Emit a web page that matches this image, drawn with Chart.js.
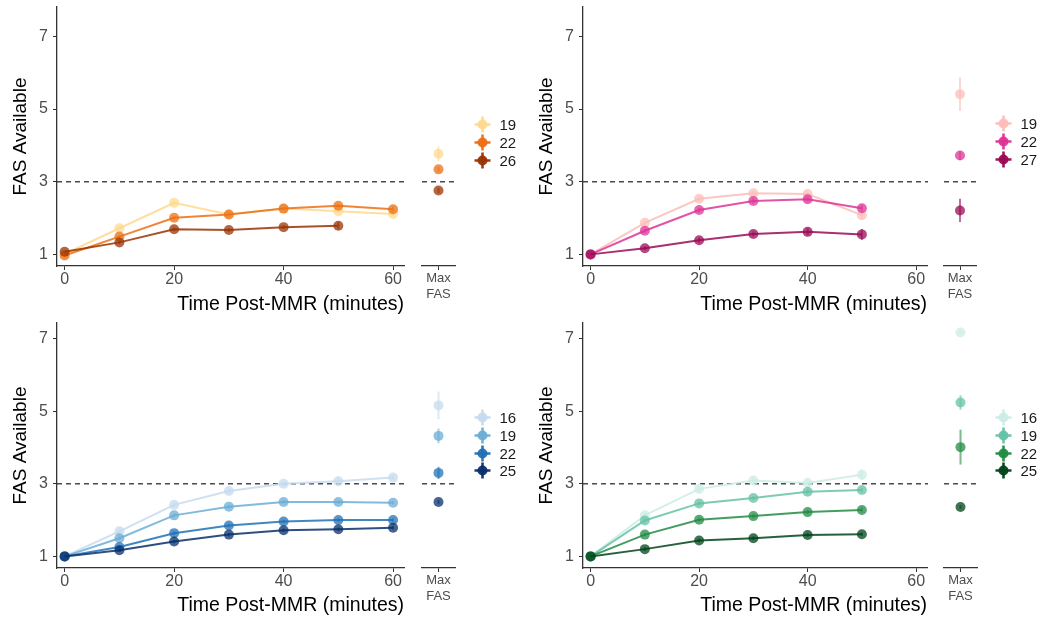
<!DOCTYPE html>
<html>
<head>
<meta charset="utf-8">
<title>FAS Available</title>
<script src="https://cdn.jsdelivr.net/npm/chart.js@4.4.1/dist/chart.umd.min.js"></script>
<style>
    body {
        margin: 0;
        background: #fff;
        width: 1051px;
        height: 621px;
        overflow: hidden;
        position: relative;
        font-family: "Liberation Sans", Arial, sans-serif;
    }
    .painel { position: absolute; width: 526px; }
    .painel canvas { position: absolute; top: 0; }
    .legenda {
        position: absolute;
        margin: 0;
        padding: 0;
        list-style: none;
        font-size: 15px;
        color: #1a1a1a;
    }
    .legenda li { height: 17.6px; display: flex; align-items: center; }
    .legenda canvas { position: static; margin-right: 9px; }
</style>
</head>
<body>
<div class="painel" id="painel_laranja" style="left:0px;top:0px;height:320px"></div>
<div class="painel" id="painel_rosa" style="left:526px;top:0px;height:320px"></div>
<div class="painel" id="painel_azul" style="left:0px;top:302px;height:319px"></div>
<div class="painel" id="painel_verde" style="left:526px;top:302px;height:319px"></div>

<script>
// eixos comuns
var tempos = [0, 10, 20, 30, 40, 50, 60];
var ticksX = [0, 20, 40, 60];
var ticksY = [1, 3, 5, 7];
var limiar = 3;

// laranja
var laranjaGrupos = ['19', '22', '26'];
var laranja19 = [1.01, 1.72, 2.42, 2.10, 2.26, 2.19, 2.11];
var laranja22 = [0.97, 1.49, 2.01, 2.10, 2.26, 2.34, 2.24];
var laranja26 = [1.07, 1.33, 1.69, 1.67, 1.75, 1.79];
var laranjaErro19 = [0.03, 0.05, 0.05, 0.05, 0.05, 0.05, 0.05];
var laranjaErro22 = [0.03, 0.05, 0.05, 0.05, 0.05, 0.05, 0.08];
var laranjaErro26 = [0.03, 0.05, 0.05, 0.05, 0.05, 0.1];
var laranjaMax = [3.77, 3.34, 2.76];
var laranjaMaxErro = [0.2, 0.07, 0.07];

// rosa
var rosaGrupos = ['19', '22', '27'];
var rosa19 = [1.0, 1.87, 2.53, 2.68, 2.66, 2.08];
var rosa22 = [1.0, 1.65, 2.22, 2.47, 2.52, 2.27];
var rosa27 = [1.0, 1.17, 1.39, 1.56, 1.62, 1.55];
var rosaErro19 = [0.02, 0.06, 0.07, 0.07, 0.07, 0.1];
var rosaErro22 = [0.02, 0.06, 0.07, 0.07, 0.07, 0.1];
var rosaErro27 = [0.02, 0.05, 0.07, 0.07, 0.1, 0.15];
var rosaMax = [5.41, 3.72, 2.21];
var rosaMaxErro = [0.46, 0.12, 0.32];

// azul
var azulGrupos = ['16', '19', '22', '25'];
var azul16 = [1.0, 1.69, 2.42, 2.80, 3.00, 3.07, 3.17];
var azul19 = [1.0, 1.50, 2.13, 2.37, 2.50, 2.50, 2.48];
var azul22 = [1.0, 1.26, 1.64, 1.85, 1.96, 2.00, 2.00];
var azul25 = [1.0, 1.17, 1.41, 1.60, 1.72, 1.75, 1.79];
var azulErro16 = [0.02, 0.07, 0.07, 0.07, 0.07, 0.12, 0.07];
var azulErro19 = [0.02, 0.05, 0.05, 0.05, 0.05, 0.05, 0.05];
var azulErro22 = [0.02, 0.05, 0.05, 0.05, 0.05, 0.05, 0.05];
var azulErro25 = [0.02, 0.05, 0.05, 0.05, 0.05, 0.05, 0.05];
var azulMax = [5.16, 4.32, 3.30, 2.50];
var azulMaxErro = [0.38, 0.2, 0.17, 0.05];

// verde
var verdeGrupos = ['16', '19', '22', '25'];
var verde16 = [1.0, 2.13, 2.86, 3.09, 3.02, 3.25];
var verde19 = [1.0, 1.99, 2.46, 2.61, 2.78, 2.83];
var verde22 = [1.0, 1.60, 2.01, 2.11, 2.22, 2.28];
var verde25 = [1.0, 1.20, 1.44, 1.50, 1.59, 1.61];
var verdeErro16 = [0.02, 0.1, 0.1, 0.12, 0.15, 0.15];
var verdeErro19 = [0.02, 0.06, 0.06, 0.06, 0.07, 0.07];
var verdeErro22 = [0.02, 0.05, 0.05, 0.06, 0.06, 0.07];
var verdeErro25 = [0.02, 0.05, 0.05, 0.05, 0.05, 0.05];
var verdeMax = [7.17, 5.24, 4.01, 2.36];
var verdeMaxErro = [0.05, 0.2, 0.48, 0.05];

var fonte = '"Liberation Sans", Arial, sans-serif';

function comAlfa(hex, a) {
    var r = parseInt(hex.slice(1, 3), 16);
    var g = parseInt(hex.slice(3, 5), 16);
    var b = parseInt(hex.slice(5, 7), 16);
    return `rgba(${r}, ${g}, ${b}, ${a})`;
}

// linha tracejada em FAS = 3
var linhaLimiar = {
    id: 'linhaLimiar',
    beforeDatasetsDraw(chart) {
        var ctx = chart.ctx;
        var area = chart.chartArea;
        var py = chart.scales.y.getPixelForValue(limiar);
        ctx.save();
        ctx.strokeStyle = '#4a4a4a';
        ctx.lineWidth = 1.6;
        ctx.setLineDash([5, 4]);
        ctx.beginPath();
        ctx.moveTo(area.left, py);
        ctx.lineTo(area.right + 1, py);
        ctx.stroke();
        ctx.restore();
    }
};

// barras de erro verticais de cada ponto
var barrasErro = {
    id: 'barrasErro',
    beforeDatasetsDraw(chart) {
        var ctx = chart.ctx;
        var escalaY = chart.scales.y;
        ctx.save();
        ctx.lineWidth = 2;
        chart.data.datasets.forEach(function (ds, i) {
            var meta = chart.getDatasetMeta(i);
            ctx.strokeStyle = ds.corErro;
            ds.erros.forEach(function (e, j) {
                var ponto = meta.data[j];
                if (!ponto) return;
                var valor = ds.valores[j];
                ctx.beginPath();
                ctx.moveTo(ponto.x, escalaY.getPixelForValue(valor - e));
                ctx.lineTo(ponto.x, escalaY.getPixelForValue(valor + e));
                ctx.stroke();
            });
        });
        ctx.restore();
    }
};

function fixarTicks(lista) {
    return function (escala) {
        escala.ticks = lista.map(function (v) { return { value: v }; });
    };
}

// tira o espaco extra que o Chart.js reserva para os rotulos das pontas
function semFolga(escala) {
    escala.paddingTop = 0;
    escala.paddingBottom = 0;
    escala.paddingLeft = 0;
    escala.paddingRight = 0;
}

function marcador(cor) {
    var c = document.createElement('canvas');
    c.width = 17;
    c.height = 17;
    var ctx = c.getContext('2d');
    ctx.strokeStyle = cor;
    ctx.fillStyle = cor;
    ctx.lineWidth = 2.6;
    ctx.beginPath();
    ctx.moveTo(0.5, 8.5); ctx.lineTo(16.5, 8.5);
    ctx.moveTo(8.5, 0.5); ctx.lineTo(8.5, 16.5);
    ctx.stroke();
    ctx.beginPath();
    ctx.arc(8.5, 8.5, 5, 0, Math.PI * 2);
    ctx.fill();
    return c;
}

function criarPainel(cfg) {
    var painel = document.getElementById(cfg.id);
    var alturaCanvas = cfg.altura;
    var base = 266;

    // grafico principal
    var canvasMain = document.createElement('canvas');
    canvasMain.width = cfg.direita + 8;
    canvasMain.height = alturaCanvas;
    canvasMain.style.left = '0px';
    painel.appendChild(canvasMain);

    var datasets = cfg.series.map(function (serie, i) {
        return {
            label: cfg.grupos[i],
            data: serie.map(function (v, j) { return { x: tempos[j], y: v }; }),
            valores: serie,
            erros: cfg.erros[i],
            corErro: comAlfa(cfg.cores[i], 0.6),
            borderColor: comAlfa(cfg.cores[i], 0.85),
            backgroundColor: comAlfa(cfg.cores[i], 0.75),
            pointBackgroundColor: comAlfa(cfg.cores[i], 0.75),
            pointBorderWidth: 0,
            pointRadius: 5,
            borderWidth: 2,
            tension: 0,
            order: cfg.series.length - i
        };
    });

    new Chart(canvasMain, {
        type: 'line',
        data: { datasets: datasets },
        options: {
            responsive: false,
            animation: false,
            events: [],
            layout: { padding: { top: cfg.topo, right: 8, left: 0, bottom: 0 } },
            plugins: { legend: { display: false }, tooltip: { enabled: false } },
            scales: {
                x: {
                    type: 'linear',
                    min: -1.4,
                    max: 62,
                    afterBuildTicks: fixarTicks(ticksX),
                    afterFit: function (s) { s.height = alturaCanvas - base; semFolga(s); },
                    grid: { display: true, drawOnChartArea: false, drawTicks: true, tickLength: 4, color: '#333', lineWidth: 1 },
                    border: { display: true, color: '#333', width: 1.3 },
                    ticks: { color: '#4d4d4d', font: { size: 16, family: fonte }, padding: 0, maxRotation: 0, autoSkip: false },
                    title: {
                        display: true,
                        text: 'Time Post-MMR (minutes)',
                        align: 'end',
                        color: '#000',
                        font: { size: 19.5, family: fonte },
                        padding: { top: 0, bottom: 4 }
                    }
                },
                y: {
                    min: 0.68,
                    max: cfg.yMax,
                    afterBuildTicks: fixarTicks(ticksY),
                    afterFit: function (s) { s.width = 57; semFolga(s); },
                    grid: { display: true, drawOnChartArea: false, drawTicks: true, tickLength: 4, color: '#333', lineWidth: 1 },
                    border: { display: true, color: '#333', width: 1.3 },
                    ticks: { color: '#4d4d4d', font: { size: 16, family: fonte }, padding: 5 },
                    title: {
                        display: true,
                        text: 'FAS Available',
                        color: '#000',
                        font: { size: 19, family: fonte },
                        padding: { top: 9, bottom: 0 }
                    }
                }
            }
        },
        plugins: [linhaLimiar, barrasErro]
    });

    // faixa "Max FAS"
    var canvasFaixa = document.createElement('canvas');
    canvasFaixa.width = (cfg.faixaDir - cfg.faixaEsq) + 12 + 4;
    canvasFaixa.height = alturaCanvas;
    canvasFaixa.style.left = (cfg.faixaEsq - 12) + 'px';
    painel.appendChild(canvasFaixa);

    var datasetsMax = cfg.maximos.map(function (v, i) {
        return {
            label: cfg.grupos[i],
            data: [v],
            valores: [v],
            erros: [cfg.maxErros[i]],
            corErro: comAlfa(cfg.cores[i], 0.6),
            showLine: false,
            pointBackgroundColor: comAlfa(cfg.cores[i], 0.75),
            pointBorderWidth: 0,
            pointRadius: 5,
            order: cfg.maximos.length - i
        };
    });

    new Chart(canvasFaixa, {
        type: 'line',
        data: { labels: [['Max', 'FAS']], datasets: datasetsMax },
        options: {
            responsive: false,
            animation: false,
            events: [],
            layout: { padding: { top: cfg.topo, right: 4, left: 12, bottom: 0 } },
            plugins: { legend: { display: false }, tooltip: { enabled: false } },
            scales: {
                x: {
                    type: 'category',
                    offset: true,
                    afterFit: function (s) { s.height = alturaCanvas - base; semFolga(s); },
                    grid: { display: true, drawOnChartArea: false, drawTicks: true, tickLength: 4, color: '#333', lineWidth: 1, offset: false },
                    border: { display: true, color: '#333', width: 1.3 },
                    ticks: { color: '#4d4d4d', font: { size: 13, family: fonte, lineHeight: 1.25 }, padding: 0, maxRotation: 0 }
                },
                y: {
                    display: false,
                    min: 0.68,
                    max: cfg.yMax
                }
            }
        },
        plugins: [linhaLimiar, barrasErro]
    });

    // legenda em HTML
    var ul = document.createElement('ul');
    ul.className = 'legenda';
    ul.style.left = (cfg.legendaX - 8.5) + 'px';
    ul.style.top = (cfg.legendaY - 8.8) + 'px';
    cfg.grupos.forEach(function (g, i) {
        var li = document.createElement('li');
        li.appendChild(marcador(comAlfa(cfg.cores[i], 0.95)));
        var span = document.createElement('span');
        span.textContent = g;
        li.appendChild(span);
        ul.appendChild(li);
    });
    painel.appendChild(ul);
}

criarPainel({
    id: 'painel_laranja', altura: 320, topo: 7, yMax: 7.81,
    direita: 404, faixaEsq: 422, faixaDir: 456, legendaX: 482, legendaY: 125,
    grupos: laranjaGrupos,
    series: [laranja19, laranja22, laranja26],
    erros: [laranjaErro19, laranjaErro22, laranjaErro26],
    maximos: laranjaMax, maxErros: laranjaMaxErro,
    cores: ['#FED98E', '#EC7014', '#993404']
});

criarPainel({
    id: 'painel_rosa', altura: 320, topo: 7, yMax: 7.81,
    direita: 401, faixaEsq: 418, faixaDir: 451, legendaX: 477, legendaY: 124,
    grupos: rosaGrupos,
    series: [rosa19, rosa22, rosa27],
    erros: [rosaErro19, rosaErro22, rosaErro27],
    maximos: rosaMax, maxErros: rosaMaxErro,
    cores: ['#FCBDB8', '#DD3497', '#9A0A55']
});

criarPainel({
    id: 'painel_azul', altura: 319, topo: 21, yMax: 7.43,
    direita: 404, faixaEsq: 422, faixaDir: 456, legendaX: 482, legendaY: 116,
    grupos: azulGrupos,
    series: [azul16, azul19, azul22, azul25],
    erros: [azulErro16, azulErro19, azulErro22, azulErro25],
    maximos: azulMax, maxErros: azulMaxErro,
    cores: ['#C6DBEF', '#6BAED6', '#2171B5', '#08306B']
});

criarPainel({
    id: 'painel_verde', altura: 319, topo: 21, yMax: 7.43,
    direita: 401, faixaEsq: 418, faixaDir: 452, legendaX: 477, legendaY: 116,
    grupos: verdeGrupos,
    series: [verde16, verde19, verde22, verde25],
    erros: [verdeErro16, verdeErro19, verdeErro22, verdeErro25],
    maximos: verdeMax, maxErros: verdeMaxErro,
    cores: ['#CCECE6', '#66C2A4', '#238B45', '#00441B']
});
</script>
</body>
</html>
